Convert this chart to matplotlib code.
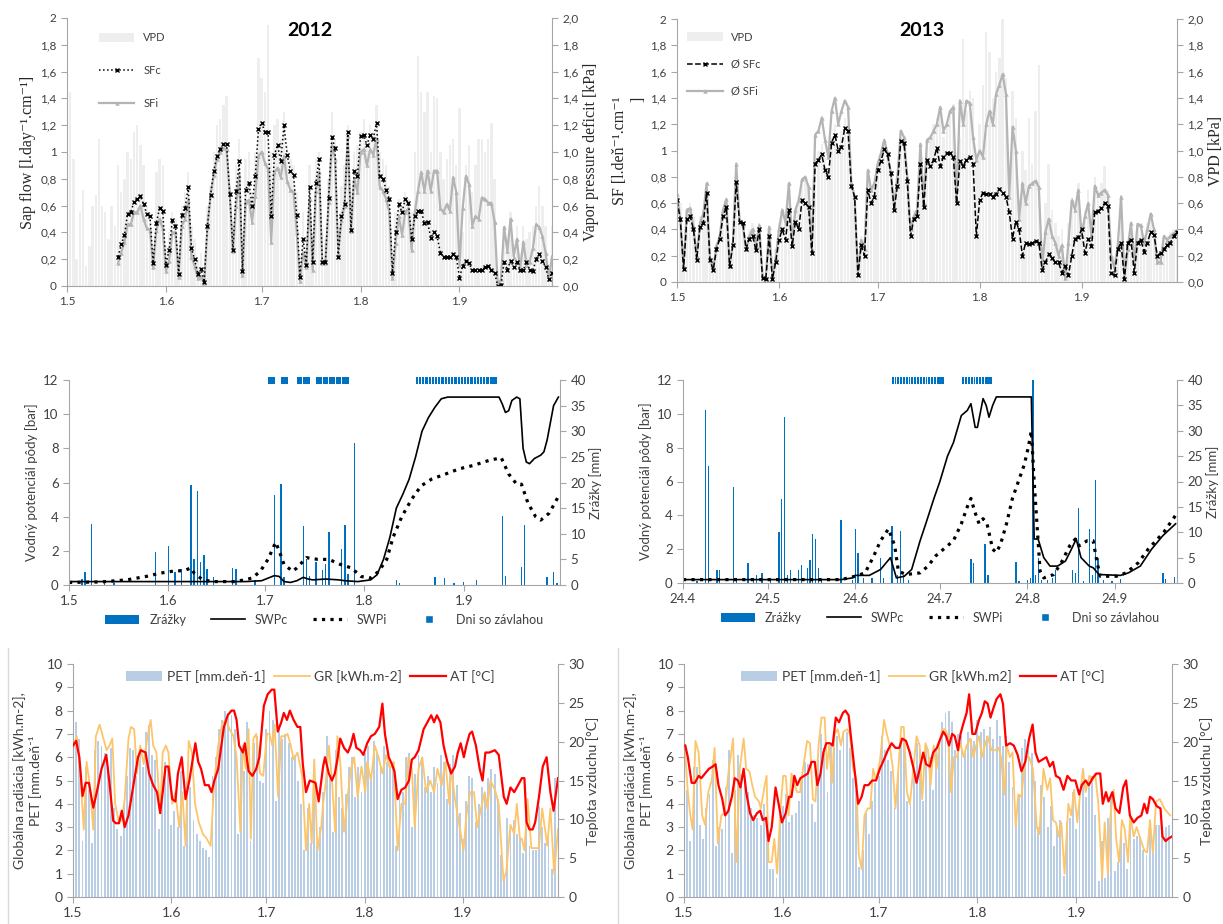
import numpy as np
import matplotlib.pyplot as plt
from matplotlib.lines import Line2D
from matplotlib.patches import Patch

plt.rcParams['font.family'] = ['Lato', 'DejaVu Sans']
SERIF = ['Liberation Serif', 'DejaVu Serif']

# ---------------- data ----------------
# x axis = day of season (0 = 1 May; mid-right panel: 0 = 24 April)
month_ticks = [0, 31, 61, 92, 123]
month_labels = ['1.5', '1.6', '1.7', '1.8', '1.9']
month_ticks_b = [0, 30, 61, 91, 122, 153]
month_labels_b = ['24.4', '24.5', '24.6', '24.7', '24.8', '24.9']

sf_left_labels = ['0', '0,2', '0,4', '0,6', '0,8', '1', '1,2', '1,4', '1,6', '1,8', '2']
sf_right_labels = ['0,0', '0,2', '0,4', '0,6', '0,8', '1,0', '1,2', '1,4', '1,6', '1,8', '2,0']

# 2012 vapour pressure deficit [kPa], days 0..152
vpd12 = [1.37, 1.45, 0.95, 0.20, 0.55, 0.72, 0.15, 0.30, 0.60, 0.68,
         1.10, 0.60, 0.55, 0.35, 0.60, 0.45, 0.90, 0.70, 0.80, 1.00,
         0.95, 1.15, 1.20, 1.05, 0.90, 0.60, 0.55, 0.25, 0.85, 0.95,
         0.90, 0.30, 0.40, 0.55, 0.50, 0.15, 0.60, 0.70, 0.85, 0.45,
         0.35, 0.20, 0.25, 0.10, 0.60, 0.75, 1.00, 1.20, 1.25, 1.35,
         1.42, 0.75, 0.40, 0.90, 1.10, 0.20, 0.95, 1.00, 0.70, 1.00,
         1.70, 1.55, 1.45, 1.95, 1.00, 1.20, 1.25, 1.10, 1.30, 1.05,
         0.95, 0.90, 0.70, 0.15, 0.55, 0.30, 0.90, 0.35, 0.95, 1.00,
         0.40, 0.35, 0.80, 1.30, 1.10, 0.40, 0.75, 0.90, 1.20, 0.70,
         1.00, 1.05, 1.15, 1.25, 1.10, 1.20, 1.15, 1.35, 1.00, 0.95,
         0.90, 0.75, 0.20, 0.55, 0.65, 0.60, 0.70, 0.65, 0.55, 1.00,
         1.72, 1.45, 1.30, 1.45, 1.00, 1.42, 1.40, 1.00, 0.80, 0.95,
         1.05, 1.10, 0.90, 1.33, 0.40, 0.90, 1.05, 0.70, 0.90, 1.10,
         1.10, 1.00, 1.10, 1.22, 0.80, 0.05, 0.15, 0.40, 0.35, 0.55,
         0.30, 0.45, 0.25, 0.45, 0.35, 0.40, 0.45, 0.60, 0.75, 0.60,
         0.45, 0.15, 0.45]

# 2012 sap flow, days 16..152
sf12_start = 16
sfc12 = [0.22, 0.31, 0.38, 0.54, 0.55, 0.63, 0.65, 0.67, 0.61, 0.54,
         0.52, 0.17, 0.47, 0.58, 0.56, 0.16, 0.27, 0.49, 0.45, 0.09,
         0.53, 0.58, 0.74, 0.28, 0.20, 0.09, 0.13, 0.03, 0.45, 0.68,
         0.86, 0.97, 1.02, 1.06, 1.06, 0.69, 0.27, 0.71, 0.93, 0.11,
         0.72, 0.77, 0.60, 0.82, 1.17, 1.22, 1.15, 1.15, 0.52, 0.98,
         1.05, 0.93, 1.20, 0.98, 0.86, 0.83, 0.53, 0.07, 0.35, 0.16,
         0.74, 0.18, 0.77, 0.95, 0.18, 0.18, 0.66, 1.11, 1.03, 0.22,
         0.52, 0.61, 1.15, 0.42, 0.86, 0.82, 1.12, 1.13, 1.05, 1.13,
         1.10, 1.22, 0.82, 0.80, 0.72, 0.65, 0.10, 0.40, 0.61, 0.55,
         0.65, 0.62, 0.35, 0.52, 0.56, 0.56, 0.47, 0.48, 0.36, 0.40,
         0.37, 0.25, 0.22, 0.22, 0.22, 0.24, 0.22, 0.06, 0.15, 0.19,
         0.17, 0.12, 0.12, 0.12, 0.12, 0.14, 0.15, 0.12, 0.10, 0.00,
         0.01, 0.18, 0.12, 0.19, 0.14, 0.18, 0.12, 0.12, 0.18, 0.12,
         0.11, 0.20, 0.24, 0.19, 0.14, 0.05, 0.10]
sfi12 = [0.17, 0.25, 0.33, 0.46, 0.46, 0.55, 0.55, 0.60, 0.50, 0.43,
         0.42, 0.14, 0.42, 0.50, 0.43, 0.11, 0.19, 0.40, 0.40, 0.07,
         0.45, 0.50, 0.64, 0.22, 0.15, 0.06, 0.07, 0.02, 0.44, 0.68,
         0.83, 0.95, 1.00, 1.03, 1.02, 0.69, 0.26, 0.60, 0.83, 0.08,
         0.63, 0.64, 0.48, 0.67, 0.97, 1.00, 0.92, 0.87, 0.33, 0.85,
         0.88, 0.81, 0.97, 0.78, 0.72, 0.70, 0.40, 0.04, 0.25, 0.14,
         0.65, 0.12, 0.71, 0.85, 0.17, 0.17, 0.63, 1.05, 0.95, 0.25,
         0.49, 0.60, 1.12, 0.41, 0.80, 0.70, 1.00, 1.02, 0.90, 1.02,
         0.98, 1.10, 0.74, 0.71, 0.65, 0.55, 0.06, 0.32, 0.52, 0.38,
         0.55, 0.58, 0.27, 0.55, 0.71, 0.85, 0.71, 0.86, 0.71, 0.86,
         0.86, 0.58, 0.55, 0.61, 0.56, 0.81, 0.70, 0.16, 0.58, 0.82,
         0.76, 0.45, 0.52, 0.50, 0.66, 0.65, 0.62, 0.62, 0.48, 0.01,
         0.05, 0.44, 0.26, 0.50, 0.22, 0.35, 0.12, 0.33, 0.16, 0.18,
         0.28, 0.46, 0.44, 0.37, 0.25, 0.05, 0.22]

# 2013 VPD and sap flow, days 0..152
vpd13 = [1.08, 0.60, 0.20, 0.55, 0.60, 0.50, 0.25, 0.50, 0.55, 0.70,
         0.25, 0.15, 0.30, 0.40, 0.55, 0.60, 0.20, 0.35, 0.80, 0.50,
         0.45, 0.30, 0.40, 0.45, 0.35, 0.45, 0.10, 0.08, 0.40, 0.10,
         0.25, 0.45, 0.55, 0.50, 0.70, 0.40, 0.55, 0.65, 0.75, 0.80,
         0.75, 0.35, 0.95, 1.00, 1.05, 0.95, 0.85, 1.10, 1.20, 1.00,
         1.15, 1.25, 1.20, 0.70, 0.60, 0.10, 0.35, 0.30, 0.80, 0.70,
         0.75, 0.85, 0.95, 1.05, 0.95, 0.85, 0.60, 0.80, 1.10, 1.05,
         0.80, 0.40, 0.55, 0.60, 1.00, 0.65, 1.05, 1.10, 1.20, 1.25,
         1.30, 1.10, 1.20, 1.30, 1.35, 0.70, 1.10, 1.85, 1.30, 1.45,
         1.40, 0.95, 1.20, 1.50, 1.90, 1.75, 1.40, 1.60, 1.70, 2.00,
         1.55, 0.80, 1.45, 1.25, 0.60, 1.00, 0.85, 1.25, 0.90, 1.30,
         1.65, 0.25, 0.60, 0.90, 0.55, 0.45, 0.35, 0.40, 0.10, 0.45,
         0.65, 0.60, 0.75, 0.45, 0.55, 0.70, 0.45, 0.80, 0.70, 0.75,
         0.88, 0.70, 0.30, 0.20, 0.35, 0.60, 0.10, 0.30, 0.45, 0.20,
         0.45, 0.45, 0.35, 0.45, 0.50, 0.40, 0.20, 0.20, 0.35, 0.35,
         0.38, 0.40, 0.40]
sfc13 = [0.62, 0.48, 0.10, 0.48, 0.50, 0.40, 0.17, 0.42, 0.45, 0.68,
         0.17, 0.09, 0.25, 0.33, 0.50, 0.57, 0.12, 0.28, 0.76, 0.46,
         0.45, 0.25, 0.33, 0.35, 0.24, 0.40, 0.03, 0.02, 0.35, 0.02,
         0.15, 0.32, 0.40, 0.32, 0.55, 0.27, 0.46, 0.40, 0.62, 0.60,
         0.57, 0.22, 0.90, 0.93, 0.97, 0.85, 0.80, 1.06, 1.12, 1.00,
         1.03, 1.17, 1.15, 0.73, 0.65, 0.05, 0.28, 0.20, 0.70, 0.60,
         0.65, 0.85, 0.92, 1.01, 0.97, 0.83, 0.55, 0.73, 1.07, 1.06,
         0.77, 0.35, 0.48, 0.50, 0.90, 0.57, 0.93, 0.88, 0.93, 1.02,
         0.88, 0.95, 0.98, 0.98, 0.95, 0.60, 0.92, 0.88, 0.93, 0.95,
         0.90, 0.35, 0.62, 0.68, 0.67, 0.67, 0.65, 0.67, 0.71, 0.68,
         0.65, 0.53, 0.33, 0.46, 0.40, 0.20, 0.30, 0.29, 0.30, 0.31,
         0.30, 0.09, 0.15, 0.21, 0.18, 0.15, 0.15, 0.07, 0.12, 0.05,
         0.20, 0.33, 0.34, 0.40, 0.22, 0.33, 0.27, 0.53, 0.54, 0.56,
         0.60, 0.58, 0.07, 0.05, 0.25, 0.30, 0.02, 0.30, 0.32, 0.07,
         0.30, 0.32, 0.23, 0.30, 0.38, 0.36, 0.20, 0.22, 0.25, 0.28,
         0.30, 0.35, 0.38]
sfi13 = [0.67, 0.48, 0.12, 0.55, 0.56, 0.42, 0.20, 0.45, 0.52, 0.75,
         0.18, 0.10, 0.27, 0.35, 0.55, 0.63, 0.12, 0.30, 0.90, 0.47,
         0.43, 0.25, 0.35, 0.40, 0.28, 0.43, 0.04, 0.03, 0.42, 0.05,
         0.18, 0.40, 0.55, 0.45, 0.75, 0.30, 0.55, 0.62, 0.78, 0.80,
         0.72, 0.25, 1.12, 1.15, 1.25, 1.08, 0.95, 1.30, 1.40, 1.20,
         1.30, 1.38, 1.33, 0.75, 0.65, 0.06, 0.32, 0.25, 0.85, 0.70,
         0.75, 0.90, 0.98, 1.08, 0.98, 0.83, 0.58, 0.80, 1.15, 1.10,
         0.80, 0.40, 0.50, 0.55, 1.05, 0.60, 1.08, 1.10, 1.15, 1.20,
         1.33, 1.15, 1.20, 1.30, 1.33, 0.62, 1.38, 1.20, 1.38, 1.36,
         1.10, 0.93, 1.00, 0.95, 1.20, 1.30, 1.20, 1.43, 1.50, 1.58,
         1.43, 0.65, 1.18, 1.00, 0.48, 0.75, 0.60, 0.73, 0.75, 0.77,
         0.72, 0.12, 0.38, 0.48, 0.35, 0.30, 0.20, 0.28, 0.03, 0.30,
         0.62, 0.55, 0.70, 0.35, 0.50, 0.60, 0.35, 0.73, 0.66, 0.68,
         0.70, 0.66, 0.20, 0.10, 0.28, 0.65, 0.03, 0.25, 0.45, 0.15,
         0.44, 0.43, 0.30, 0.40, 0.52, 0.40, 0.15, 0.15, 0.35, 0.32,
         0.35, 0.37, 0.39]

# 2012 soil water potential [bar] (day, value) and rain [mm]
swpc12 = [(0, 0.2), (40, 0.2), (55, 0.2), (60, 0.25), (62, 0.4), (64, 0.55), (65.5, 0.5),
          (67, 0.2), (69, 0.15), (71, 0.25), (73, 0.45), (74.5, 0.35), (76, 0.3), (80, 0.35),
          (84, 0.3), (86, 0.25), (90, 0.2), (94, 0.3), (96, 0.6), (98, 1.5), (100, 2.8),
          (102, 4.5), (104, 5.3), (106, 6.2), (108, 7.5), (110, 9.0), (112, 9.8), (114, 10.4),
          (116, 10.9), (118, 11.0), (134, 11.0), (135, 10.6), (136, 10.1), (137, 10.2),
          (138, 10.8), (139.5, 11.0), (140.5, 10.9), (141.5, 8.0), (142.5, 7.2), (143.5, 7.1),
          (145, 7.4), (147, 7.6), (148, 7.8), (149, 8.5), (150, 9.5), (151, 10.5), (152.5, 11.0)]
swpi12 = [(0, 0.15), (10, 0.18), (18, 0.3), (24, 0.5), (28.6, 0.7), (32, 0.8), (36, 0.85),
          (38, 1.0), (39, 0.7), (41.7, 0.3), (45, 0.2), (52, 0.2), (57, 0.4), (59.6, 0.8),
          (62, 1.5), (64.4, 2.5), (65.5, 2.0), (67, 1.2), (69.7, 0.8), (71, 1.0), (74, 1.6),
          (77.5, 1.5), (81, 1.5), (84.6, 1.2), (88, 1.0), (91, 0.5), (94, 0.4), (96.5, 0.8),
          (99, 1.5), (101, 2.8), (103.7, 4.0), (106.7, 5.0), (109.7, 5.8), (113, 6.2),
          (117.4, 6.5), (121.6, 6.8), (126, 7.0), (131, 7.3), (134.7, 7.45), (137, 6.5),
          (139.5, 5.9), (141, 5.9), (143, 4.8), (145.4, 4.0), (147, 3.8), (149.6, 4.2),
          (151.4, 4.8), (152.8, 5.3)]
rain12_day = [4, 5, 7, 11, 14, 27, 31, 33, 35, 38, 39, 40, 41, 42, 43, 45, 51, 52, 58, 64,
              66, 67, 73, 74, 75, 77, 79, 80, 81, 85, 86, 87, 89, 102, 103, 114, 117, 120,
              123, 127, 135, 136, 141, 142, 149, 151, 152]
rain12_mm = [1.2, 2.6, 12.0, 0.3, 0.3, 6.4, 7.6, 2.5, 3.2, 19.6, 5.0, 18.3, 4.4, 5.8, 3.2,
             1.5, 3.4, 3.2, 1.0, 17.5, 19.7, 1.5, 11.6, 5.0, 1.8, 4.4, 3.0, 4.1, 10.4, 7.1,
             11.7, 2.2, 27.8, 1.0, 0.3, 1.5, 1.3, 0.3, 0.5, 1.0, 13.5, 1.8, 3.6, 11.7, 1.6,
             2.6, 0.3]
irr12 = [63, 67, 72, 74, 78, 80, 82, 84, 86,
         109, 110, 111, 112, 113, 114, 115, 116, 117, 118, 119, 120, 121, 122, 123, 124,
         125, 126, 127, 128, 129, 130, 131, 132]

# 2013 soil water potential (day from 24 April) and rain
swpc13 = [(0, 0.2), (56, 0.2), (60, 0.3), (61, 0.45), (66, 0.45), (70, 0.8), (73.5, 1.5),
          (75.6, 0.3), (78.4, 0.4), (81, 0.8), (84, 2.5), (86, 3.5), (88.9, 5.0), (91, 6.0),
          (93.7, 7.5), (95.8, 8.3), (98.6, 9.9), (100.7, 10.2), (102, 10.6), (103.5, 9.2),
          (104.3, 9.2), (106.3, 10.9), (107.4, 10.5), (108.4, 9.8), (109.7, 10.5), (111, 11.0),
          (123.4, 11.0), (124.4, 2.6), (125.8, 2.6), (127.8, 1.5), (130, 1.0), (132.7, 1.0),
          (135.5, 1.3), (137.6, 2.0), (139.3, 2.6), (141, 1.5), (143.9, 1.0), (145.3, 0.9),
          (147.4, 0.5), (155, 0.45), (157.8, 0.6), (162, 1.0), (166, 2.0), (170, 2.8),
          (174.5, 3.5)]
swpi13 = [(0, 0.2), (56, 0.2), (61, 0.4), (64.5, 0.6), (67.3, 1.5), (70, 2.5), (72.8, 3.2),
          (75, 2.2), (76.3, 0.7), (79, 0.5), (84, 0.6), (86.8, 1.0), (89.5, 1.6), (92.3, 2.0),
          (95.8, 2.5), (98.6, 3.5), (100.7, 4.5), (102, 5.0), (103.4, 4.2), (104.9, 3.5),
          (106.3, 3.8), (107.7, 3.5), (109.7, 2.0), (111, 1.8), (112.5, 2.3), (114.6, 3.5),
          (116.7, 5.0), (118.8, 6.0), (120.9, 7.0), (122.3, 8.0), (123.4, 9.0), (124.4, 6.0),
          (126.5, 0.7), (127.8, 0.3), (131.3, 0.5), (134, 1.2), (137, 2.2), (139, 2.6),
          (140.4, 2.2), (143.2, 2.5), (145.3, 2.5), (146.7, 1.2), (147.8, 0.4), (153.6, 0.4),
          (157, 0.6), (161.3, 1.2), (164.8, 2.0), (170.3, 3.0), (174.5, 4.0)]
rain13_day = [5, 8, 9, 12, 13, 18, 19, 23, 25, 26, 28, 31, 34, 35, 36, 37, 38, 41, 42, 44,
              45, 46, 47, 48, 49, 56, 60, 61, 62, 64, 67, 70, 71, 74, 76, 77, 78, 80, 102,
              103, 107, 108, 118, 119, 122, 123, 124, 125, 126, 127, 129, 131, 132, 138, 139,
              140, 142, 144, 145, 146, 147, 149, 152, 155, 170, 171, 174]
rain13_mm = [0.3, 34.0, 23.0, 2.5, 2.5, 19.0, 0.8, 4.0, 1.0, 1.5, 2.0, 0.5, 10.0, 16.5, 32.7,
             1.5, 2.5, 2.5, 3.5, 3.0, 4.5, 9.7, 8.7, 3.0, 0.5, 12.4, 0.5, 10.7, 6.0, 1.0, 1.0,
             5.0, 1.0, 11.2, 1.5, 10.2, 1.5, 0.5, 4.7, 4.0, 7.7, 1.5, 4.2, 0.3, 0.5, 1.0, 40.0,
             1.5, 5.0, 0.5, 0.5, 1.0, 2.5, 2.5, 2.0, 14.8, 0.3, 10.7, 1.5, 20.3, 5.0, 0.5, 0.3,
             0.8, 2.0, 0.8, 1.2]
irr13 = [75, 76, 77, 78, 79, 80, 81, 82, 83, 84, 85, 86, 87, 88, 89, 90, 91,
         100, 101, 102, 103, 104, 105, 106, 107, 108]

# potential evapotranspiration [mm/day], days 0..152
pet12 = [7.2, 7.5, 6.8, 2.4, 5.6, 4.6, 2.3, 6.3, 6.7, 6.5,
         6.2, 5.6, 6.4, 3.8, 2.9, 2.6, 4.0, 5.2, 6.4, 6.3,
         5.2, 6.2, 5.6, 7.1, 7.4, 6.1, 5.9, 2.9, 5.4, 5.8,
         5.6, 3.1, 3.7, 3.0, 5.4, 2.2, 5.0, 4.7, 3.3, 2.7,
         2.4, 2.1, 2.0, 1.7, 5.2, 6.0, 7.2, 7.6, 8.0, 7.9,
         7.8, 7.2, 2.7, 6.3, 5.4, 7.5, 2.4, 6.6, 6.9, 5.0,
         4.9, 7.2, 8.0, 7.6, 4.1, 7.2, 6.8, 7.0, 6.6, 6.0,
         6.1, 5.0, 4.0, 2.0, 3.8, 2.3, 5.6, 2.2, 3.0, 4.5,
         6.9, 5.1, 2.8, 6.3, 4.3, 3.8, 4.4, 5.6, 6.0, 4.3,
         5.6, 4.5, 6.2, 6.5, 5.0, 6.7, 6.2, 5.6, 6.5, 5.8,
         5.5, 5.8, 2.2, 4.3, 4.5, 6.0, 6.2, 3.0, 5.3, 6.1,
         5.9, 4.7, 5.2, 4.5, 5.6, 4.9, 6.1, 5.8, 4.2, 5.7,
         6.1, 4.8, 3.6, 2.5, 4.1, 5.2, 5.1, 3.2, 4.0, 4.7,
         4.3, 5.1, 5.5, 5.3, 4.2, 1.8, 0.9, 3.4, 2.9, 3.3,
         2.7, 2.5, 1.9, 3.7, 2.2, 2.0, 2.0, 3.9, 3.0, 2.3,
         3.0, 1.2, 5.1]
pet13 = [6.4, 4.6, 2.4, 5.6, 5.6, 3.1, 2.5, 3.8, 4.4, 5.9,
         2.2, 3.0, 2.9, 4.7, 6.3, 1.9, 4.6, 6.1, 5.3, 5.0,
         4.5, 3.8, 3.5, 3.4, 3.1, 4.0, 3.2, 1.2, 1.2, 0.8,
         3.3, 3.9, 4.4, 3.2, 3.5, 3.6, 4.1, 5.2, 5.8, 5.7,
         4.0, 3.2, 5.9, 7.0, 6.4, 4.5, 6.6, 6.4, 6.9, 6.3,
         7.0, 7.1, 6.4, 5.1, 4.6, 1.3, 2.0, 3.6, 2.7, 4.1,
         4.9, 5.2, 6.9, 6.3, 5.9, 5.4, 3.8, 5.3, 6.7, 6.8,
         4.1, 4.0, 5.2, 6.6, 6.3, 4.1, 6.4, 6.0, 4.6, 6.4,
         6.6, 7.5, 7.9, 8.0, 7.5, 6.3, 7.0, 6.9, 6.2, 7.1,
         6.8, 6.7, 7.6, 7.1, 7.2, 6.9, 7.3, 6.8, 7.6, 6.9,
         6.5, 6.9, 5.8, 4.7, 3.5, 4.4, 6.4, 6.8, 6.3, 6.2,
         5.0, 3.0, 4.8, 4.3, 3.0, 3.9, 2.2, 3.0, 3.3, 0.9,
         3.2, 3.4, 4.5, 2.9, 4.1, 5.0, 4.3, 5.0, 5.2, 3.5,
         0.7, 2.4, 0.8, 3.4, 4.4, 1.1, 1.5, 2.6, 2.3, 1.2,
         3.2, 2.5, 2.6, 2.6, 2.0, 1.8, 2.9, 1.9, 3.1, 3.1,
         3.0, 3.0, 3.1]

# global radiation [kWh/m2] (day, value)
gr12 = [(0, 6.3), (1.2, 6.9), (2.2, 5.5), (3.4, 2.9), (4.3, 5.8), (5.3, 4.8), (6.4, 2.9),
        (7.2, 6.9), (8.4, 7.4), (9.4, 6.9), (10.6, 6.3), (11.5, 6.5), (12.4, 6.8), (13.3, 4.0),
        (14.5, 3.2), (15.4, 3.3), (16.3, 4.2), (17.5, 6.8), (18.3, 7.3), (19.3, 7.2),
        (20.2, 5.3), (21.2, 6.5), (22.3, 5.7), (23.4, 6.8), (24.5, 7.6), (25.3, 6.5),
        (26.3, 6.2), (27.5, 3.6), (28.3, 6.2), (29.3, 6.5), (30.1, 6.2), (31.3, 4.0),
        (32.3, 4.5), (33.5, 3.0), (34.5, 4.5), (35.5, 2.2), (36.5, 6.7), (37.5, 6.2),
        (38.5, 4.0), (39.7, 3.2), (41, 2.7), (42.2, 2.5), (43.4, 2.2), (44.6, 5.0),
        (45.8, 6.5), (47, 7.4), (48.2, 7.6), (49.4, 7.2), (50.6, 6.9), (51.6, 6.0),
        (52.8, 2.8), (53.6, 6.5), (54.5, 5.5), (55.4, 7.2), (56.1, 2.5), (56.9, 6.8),
        (57.8, 7.0), (59, 5.3), (60, 5.2), (61.2, 7.0), (62, 7.0), (62.9, 6.5), (63.6, 7.4),
        (64.7, 4.3), (65.7, 6.9), (66.9, 6.9), (67.7, 7.0), (68.7, 6.5), (69.6, 5.9),
        (70.8, 6.2), (72.3, 5.2), (73.5, 2.0), (74.5, 4.0), (75.3, 2.3), (76.1, 5.9),
        (77.1, 2.0), (78.3, 3.0), (78.9, 4.0), (79.8, 5.0), (80.7, 6.5), (81.7, 5.0),
        (82.7, 2.8), (83.4, 6.9), (84.3, 5.8), (85.5, 2.8), (86.8, 4.5), (87.7, 5.5),
        (88.7, 6.0), (89.8, 4.3), (91, 5.6), (92.2, 4.5), (92.8, 5.8), (94, 5.0), (95.2, 6.5),
        (96.4, 6.0), (97.6, 5.3), (98.8, 6.1), (100, 5.5), (101.2, 5.8), (102.4, 2.0),
        (103.6, 4.0), (104.8, 4.0), (105.8, 6.0), (106.9, 5.5), (107.8, 3.0), (109, 5.5),
        (110.2, 6.0), (111.4, 4.5), (112.7, 5.0), (113.9, 4.5), (115, 5.5), (116.3, 4.8),
        (117.5, 5.8), (118.7, 4.0), (119.3, 5.5), (120.5, 4.2), (123.2, 2.0), (124.1, 3.5),
        (125.3, 4.5), (126.5, 4.5), (127.5, 3.0), (128.7, 3.8), (129.9, 4.5), (130.7, 3.8),
        (131.7, 5.0), (133.1, 4.6), (134.3, 4.0), (135.8, 0.7), (136.7, 1.1), (138, 3.1),
        (139.2, 2.7), (140, 4.0), (141, 2.5), (141.6, 2.5), (142.4, 2.0), (143.4, 4.2),
        (144.6, 2.1), (146.4, 2.1), (147, 2.1), (148, 3.8), (148.8, 3.0), (149.6, 2.2),
        (150.6, 3.8), (151.8, 1.0), (153, 2.9)]
gr13 = [(0.2, 6.5), (1.2, 4.5), (2, 3.5), (2.7, 2.9), (3.6, 6.7), (4.6, 6.2), (5.7, 3.5),
        (6.6, 3.1), (7.6, 4.5), (8.7, 5.0), (9.6, 6.4), (10.6, 2.3), (11.7, 3.5), (12.7, 3.6),
        (13.9, 5.3), (15.4, 6.8), (16.4, 1.5), (17.5, 5.5), (18.7, 6.8), (19.5, 5.5),
        (20.5, 5.4), (21.4, 4.8), (22.3, 4.3), (23.5, 4.1), (24.1, 3.8), (25.3, 4.8),
        (25.9, 5.2), (26.5, 1.5), (27.5, 1.5), (28.3, 2.5), (29.2, 1.0), (30.1, 3.5),
        (31.1, 5.2), (31.9, 5.2), (32.8, 3.5), (33.7, 5.3), (34.7, 4.8), (35.5, 4.5),
        (36.4, 4.5), (37.3, 5.5), (38.6, 6.7), (39.5, 6.6), (40.4, 4.2), (41.2, 4.1),
        (42.2, 6.5), (43.1, 7.7), (44.1, 7.7), (44.8, 5.5), (45.5, 6.5), (46.4, 4.9),
        (47.2, 7.0), (48.2, 7.2), (49.2, 6.5), (50, 7.1), (51.2, 7.2), (52, 7.0), (53, 5.5),
        (54, 5.1), (54.8, 1.8), (55.7, 1.2), (56.6, 3.5), (57.6, 3.8), (58.4, 3.8),
        (59.3, 5.5), (60.2, 5.0), (61.4, 5.8), (62.7, 7.6), (63.6, 7.0), (64.5, 6.5),
        (65.4, 5.6), (66.3, 3.8), (67.2, 5.5), (68.1, 7.3), (68.9, 7.3), (69.9, 4.5),
        (70.8, 4.0), (71.7, 5.2), (72.9, 6.9), (73.9, 6.5), (74.7, 4.2), (75.7, 6.6),
        (76.5, 6.3), (77.3, 4.8), (78.3, 6.5), (79.2, 5.5), (80.1, 6.6), (81, 7.2),
        (81.9, 7.2), (82.8, 6.9), (83.7, 4.5), (84.6, 6.0), (85.5, 6.0), (86.7, 6.6),
        (87.7, 6.0), (88.6, 6.5), (89.8, 6.8), (90.7, 6.0), (91.6, 6.5), (92.5, 6.9),
        (93.4, 6.0), (94.3, 6.5), (95.2, 6.9), (96.4, 6.3), (97.6, 6.3), (98.6, 6.4),
        (99.4, 6.0), (100.4, 4.4), (101.2, 6.5), (102.2, 6.0), (103, 6.2), (104, 3.0),
        (104.8, 4.4), (105.8, 4.3), (107, 6.0), (108.2, 6.0), (109.4, 5.5), (110.6, 3.0),
        (111.4, 2.7), (112.7, 5.5), (113.9, 4.6), (114.8, 5.1), (115.7, 3.3), (116.6, 3.2),
        (117.5, 2.6), (118.3, 3.2), (119.3, 1.0), (120.5, 4.0), (121.4, 3.5), (122.3, 4.6),
        (123.3, 3.2), (124.1, 4.3), (125.1, 5.5), (125.9, 4.5), (127.1, 5.2), (128.1, 5.0),
        (128.9, 5.3), (129.9, 4.0), (131.1, 0.8), (131.9, 3.2), (132.9, 1.0), (133.7, 3.5),
        (134.7, 4.6), (135.5, 2.5), (136.4, 1.5), (137.3, 3.3), (138.2, 2.9), (139.2, 1.5),
        (139.9, 3.5), (141, 2.6), (141.9, 3.0), (143.1, 2.5), (144.3, 2.0), (145.2, 1.9),
        (146.1, 3.3), (147, 1.9), (148, 4.1), (149.2, 4.2), (150.6, 3.8), (152.4, 3.5)]

# air temperature [deg C] (day, value)
at12 = [(0, 19.5), (1, 20.1), (2, 18.0), (3, 13.0), (4, 14.7), (5, 14.7), (6.4, 11.5),
        (7.5, 13.5), (9, 16.5), (10.5, 18.3), (11.5, 14.7), (12.7, 9.8), (13.5, 9.5),
        (14.5, 9.5), (15.4, 11.1), (16.3, 9.0), (17.5, 10.5), (19.3, 15.0), (20.5, 18.0),
        (21.4, 18.9), (22.9, 18.6), (24, 15.9), (25.3, 14.4), (26.5, 13.5), (27.5, 10.8),
        (28.3, 13.5), (29.2, 16.8), (30.1, 16.8), (31.3, 12.6), (32.3, 12.3), (33.1, 15.9),
        (34.3, 18.0), (35.5, 12.6), (36.7, 15.0), (38.6, 19.8), (39.5, 17.4), (40.4, 16.5),
        (41.6, 14.4), (42.8, 14.4), (43.7, 13.5), (44.6, 15.0), (45.8, 16.5), (46.8, 19.5),
        (47.6, 21.9), (48.8, 23.4), (50, 24.0), (50.8, 24.0), (51.6, 22.8), (52.4, 19.5),
        (53.6, 18.6), (54.2, 19.8), (55.4, 16.2), (56.6, 15.6), (57.8, 16.5), (58.8, 18.0),
        (60.2, 24.6), (61.4, 26.1), (62.7, 26.7), (63.5, 26.7), (64.6, 21.3), (65.7, 22.5),
        (66.5, 23.7), (67.5, 22.8), (68.4, 24.0), (69.6, 22.8), (70.8, 21.9), (71.7, 21.9),
        (72.5, 17.1), (73.5, 13.5), (74.7, 15.0), (76.5, 14.7), (77.5, 12.3), (78.9, 16.8),
        (79.5, 18.0), (80.7, 15.9), (81.7, 15.0), (82.6, 15.9), (83.4, 17.7), (84.3, 20.4),
        (85.5, 19.2), (86.7, 18.6), (87.6, 19.5), (88.5, 21.0), (89.4, 19.2), (90.6, 18.9),
        (91.6, 18.3), (92.8, 19.8), (94, 20.7), (95.2, 21.0), (96.6, 21.9), (97.6, 24.9),
        (98.4, 21.0), (99.6, 18.0), (100.6, 17.1), (101.4, 16.2), (102.4, 12.6), (103.6, 13.8),
        (104.8, 14.1), (106, 15.0), (106.9, 17.7), (107.8, 18.0), (109, 18.9), (110.6, 21.6),
        (111.8, 22.5), (113, 23.4), (113.9, 22.5), (114.8, 23.4), (115.9, 22.5), (116.9, 19.5),
        (118.1, 17.4), (119.3, 15.9), (120.5, 16.8), (121.4, 18.6), (122.3, 19.8), (123.3, 18.0),
        (124.1, 19.5), (125.1, 21.0), (125.9, 21.3), (127.1, 19.5), (128.3, 16.5), (129.2, 15.0),
        (130.1, 18.6), (131.3, 18.6), (133.1, 18.9), (134.3, 18.3), (135.9, 12.9), (136.8, 12.0),
        (138, 14.1), (139.2, 13.5), (140.4, 14.4), (141.6, 15.3), (142.4, 15.3), (143.1, 9.6),
        (144, 8.7), (145, 8.7), (145.8, 9.6), (147, 12.9), (148.2, 16.8), (149.4, 18.0),
        (150.6, 13.5), (151.6, 11.1), (153, 15.3)]
at13 = [(0.4, 19.5), (1.2, 18.0), (2.4, 14.7), (3.4, 14.7), (4.6, 15.6), (5.4, 15.3),
        (6.6, 15.9), (7.8, 16.5), (9, 16.8), (9.9, 17.1), (10.8, 14.4), (12, 12.6), (12.9, 10.5),
        (13.9, 11.1), (15, 12.9), (15.9, 15.3), (16.9, 15.0), (17.7, 14.1), (18.7, 16.5),
        (19.5, 13.5), (20.7, 10.8), (21.7, 9.9), (22.9, 10.8), (23.9, 11.1), (24.7, 9.9),
        (25.7, 10.2), (26.5, 7.2), (27.5, 9.0), (28.7, 14.1), (29.8, 11.7), (30.7, 9.6),
        (31.9, 10.8), (32.9, 12.9), (33.7, 12.9), (34.6, 15.6), (35.5, 14.4), (36.5, 15.3),
        (37.7, 15.6), (38.8, 15.9), (40, 17.4), (41, 17.4), (41.8, 14.4), (42.8, 15.9),
        (43.7, 18.6), (44.6, 19.8), (45.8, 19.8), (46.6, 19.5), (47.6, 23.1), (48.6, 22.5),
        (49.8, 23.7), (50.6, 24.0), (51.6, 23.4), (52.4, 20.4), (53.6, 15.9), (54.6, 12.0),
        (55.7, 12.9), (56.6, 14.4), (57.8, 14.4), (59, 15.0), (60.2, 15.0), (61.4, 16.5),
        (62.7, 17.7), (63.9, 18.9), (65.1, 19.8), (66.3, 19.2), (67.5, 19.2), (68.4, 20.4),
        (69.6, 20.1), (70.8, 18.6), (72, 16.5), (72.9, 14.7), (73.9, 16.5), (75, 18.6),
        (75.9, 17.1), (77.1, 16.8), (78.1, 18.6), (79.3, 19.2), (80.1, 20.1), (81.3, 21.3),
        (82.2, 20.7), (83.1, 19.5), (84.1, 21.0), (84.9, 20.7), (85.9, 18.9), (86.7, 21.0),
        (87.7, 22.5), (88.6, 23.7), (89.4, 26.1), (90.4, 21.0), (91.3, 21.0), (92.5, 22.8),
        (93.4, 23.7), (94.3, 25.2), (95.2, 24.9), (96.1, 23.1), (97, 24.3), (98, 25.5),
        (99.2, 26.1), (100, 24.9), (101, 19.5), (102.2, 19.8), (103.4, 19.5), (104.6, 18.3),
        (105.8, 16.2), (107, 17.4), (108.2, 20.4), (109.3, 22.2), (110.2, 18.6), (111.2, 17.4),
        (112.4, 17.7), (113.6, 18.0), (114.7, 16.8), (115.7, 17.4), (116.6, 15.6), (117.8, 15.3),
        (119, 13.8), (120.2, 15.6), (121.4, 15.0), (122.7, 15.0), (123.9, 13.2), (124.7, 14.4),
        (125.9, 15.0), (126.9, 14.4), (128.1, 15.3), (129.3, 15.9), (130.5, 15.9), (131.3, 12.0),
        (132.3, 13.5), (133.1, 12.3), (134.3, 13.5), (135.3, 11.4), (136.5, 10.8), (137.7, 14.1),
        (138.6, 15.0), (139.8, 10.5), (141, 9.6), (142.2, 10.2), (143.4, 10.5), (144.3, 12.0),
        (145.2, 10.8), (146.1, 12.9), (147, 12.6), (148.2, 11.7), (149.4, 11.4), (150, 7.8),
        (151, 7.2), (151.8, 7.5), (153, 7.8)]

# ---------------- drawing ----------------
W, H = 1223, 924
fig = plt.figure(figsize=(W / 100, H / 100), dpi=100)

GRID = '#a6a6a6'
TXT = '#404040'


def box(l, t, r, b):
    return [l / W, 1 - b / H, (r - l) / W, (b - t) / H]


def style(ax, ax2, size, front=True):
    for a in (ax, ax2):
        a.spines['top'].set_visible(False)
        for s in a.spines.values():
            s.set_color(GRID)
        a.tick_params(direction='out', length=4, color=GRID, labelcolor=TXT, labelsize=size)
    ax.spines['right'].set_visible(False)
    ax2.spines['left'].set_visible(False)
    ax2.spines['bottom'].set_visible(False)
    if front:
        ax.set_zorder(ax2.get_zorder() + 1)
        ax.patch.set_visible(False)


def xy(pairs):
    a = np.array(pairs, dtype=float)
    return a[:, 0], a[:, 1]


def sap_panel(rect, vpd, sfc, sfi, start, year, names, ylab, y2lab, leg_xy, leg_sp, title_x):
    ax = fig.add_axes(box(*rect))
    ax2 = ax.twinx()
    style(ax, ax2, 8.5)
    ax2.bar(np.arange(len(vpd)), vpd, width=0.75, color='#eeeeee', linewidth=0)
    d = np.arange(start, start + len(sfc))
    ls_c = ':' if year == '2012' else '--'
    ax.plot(d, sfi, color='#b4b4b4', lw=1.6, marker='^', ms=3.2, mew=0)
    ax.plot(d, sfc, color='black', ls=ls_c, lw=1.1, marker='x', ms=3.3, mew=1.0)
    ax.set_xlim(0, 152)
    ax.set_ylim(0, 2)
    ax2.set_ylim(0, 2)
    ax.set_yticks(np.linspace(0, 2, 11))
    ax.set_yticklabels(sf_left_labels)
    ax2.set_yticks(np.linspace(0, 2, 11))
    ax2.set_yticklabels(sf_right_labels)
    ax.set_xticks(month_ticks)
    ax.set_xticklabels(month_labels)
    ax.set_ylabel(ylab, family=SERIF, fontsize=11.5, color='#262626', labelpad=3)
    ax2.set_ylabel(y2lab, family=SERIF, fontsize=11.5, color='#262626', labelpad=3)
    ax.text(title_x, 0.955, year, transform=ax.transAxes,
            ha='center', va='center', fontsize=14, fontweight='bold', color='black')
    handles = [Patch(facecolor='#eeeeee', edgecolor='none'),
               Line2D([], [], color='black', ls=ls_c, lw=1.1, marker='x', ms=3.3),
               Line2D([], [], color='#b4b4b4', lw=1.6, marker='^', ms=3.2, mew=0)]
    ax.legend(handles, names, loc='upper left', bbox_to_anchor=leg_xy,
              frameon=False, fontsize=8, labelspacing=leg_sp, handlelength=3.2,
              handleheight=0.9, labelcolor=TXT)
    return ax, ax2


sap_panel((67, 18, 552, 286), vpd12, sfc12, sfi12, sf12_start, '2012',
          ['VPD', 'SFc', 'SFi'],
          'Sap flow [l.day\u207b\u00b9.cm\u207b\u00b9]',
          'Vapor pressure deficit [kPa]', (0.045, 0.985), 2.0, 0.5)
ax_tr, ax_tr2 = sap_panel((677, 19, 1177, 282), vpd13, sfc13, sfi13, 0, '2013',
                          ['VPD', '\u00d8 SFc', '\u00d8 SFi'],
                          'SF [l.de\u0148\u207b\u00b9.cm\u207b\u00b9\n]',
                          'VPD [kPa]', (0.0, 0.99), 1.45, 0.49)
ax_tr.yaxis.label.set_multialignment('right')


def swp_panel(rect, rain_d, rain_v, swpc, swpi, irr, xlim, ticks, labels):
    ax = fig.add_axes(box(*rect))
    ax2 = ax.twinx()
    style(ax, ax2, 9.5)
    ax2.bar(rain_d, rain_v, width=0.45, color='#0070c0', linewidth=0)
    cx, cy = xy(swpc)
    ix, iy = xy(swpi)
    ax.plot(cx, cy, color='black', lw=1.2)
    ax.plot(ix, iy, color='black', ls=':', lw=2.3)
    ax.plot(irr, [12] * len(irr), ls='none', marker='s', ms=5.5, mfc='#0070c0',
            mec='white', mew=0.7, clip_on=False)
    ax.set_xlim(*xlim)
    ax.set_ylim(0, 12)
    ax2.set_ylim(0, 40)
    ax.set_yticks(range(0, 13, 2))
    ax2.set_yticks(range(0, 41, 5))
    ax.set_xticks(ticks)
    ax.set_xticklabels(labels)
    ax.set_ylabel('Vodný potenciál pôdy [bar]', fontsize=9.5, color=TXT, labelpad=4)
    ax2.set_ylabel('Zrážky [mm]', fontsize=9.5, color=TXT, labelpad=2)
    handles = [Patch(facecolor='#0070c0'),
               Line2D([], [], color='black', lw=1.2),
               Line2D([], [], color='black', ls=':', lw=2.3),
               Line2D([], [], ls='none', marker='s', ms=5.5, mfc='#0070c0', mec='white')]
    ax.legend(handles, ['Zrážky', 'SWPc', 'SWPi', 'Dni so závlahou'],
              loc='center', bbox_to_anchor=(0.52, -0.17), ncol=4, frameon=False,
              fontsize=9, columnspacing=2.0, handlelength=2.7, labelcolor=TXT)


swp_panel((69, 380, 560, 585), rain12_day, rain12_mm, swpc12, swpi12, irr12,
          (0, 153), month_ticks, month_labels)
swp_panel((683, 380, 1177, 583), rain13_day, rain13_mm, swpc13, swpi13, irr13,
          (0, 175), month_ticks_b, month_labels_b)


def met_panel(rect, pet, gr, at, gr_label):
    ax = fig.add_axes(box(*rect))
    ax2 = ax.twinx()
    style(ax, ax2, 10, front=False)
    ax.bar(np.arange(len(pet)), pet, width=0.6, color='#b9cde5', linewidth=0)
    gx, gy = xy(gr)
    tx, ty = xy(at)
    ax.plot(gx, gy, color='#fdc56a', lw=1.3)
    ax2.plot(tx, ty, color='#ff0000', lw=1.6)
    ax.set_xlim(0, 153)
    ax.set_ylim(0, 10)
    ax2.set_ylim(0, 30)
    ax.set_yticks(range(0, 11))
    ax2.set_yticks(range(0, 31, 5))
    ax.set_xticks(month_ticks)
    ax.set_xticklabels(month_labels)
    ax.set_ylabel('Globálna radiácia [kWh.m-2],\nPET [mm.deň\u207b\u00b9', fontsize=10,
                  color=TXT, labelpad=4)
    ax2.set_ylabel('Teplota vzduchu [°C]', fontsize=10, color=TXT, labelpad=1)
    handles = [Patch(facecolor='#b9cde5'),
               Line2D([], [], color='#fdc56a', lw=1.3),
               Line2D([], [], color='#ff0000', lw=1.6)]
    ax2.legend(handles, ['PET [mm.deň-1]', gr_label, 'AT [°C]'], loc='center',
               bbox_to_anchor=(0.49, 0.948), ncol=3, frameon=False, fontsize=10,
               columnspacing=0.6, handlelength=2.6, handletextpad=0.3, labelcolor=TXT)


met_panel((73, 664, 558, 897), pet12, gr12, at12, 'GR [kWh.m-2]')
met_panel((684, 664, 1172, 897), pet13, gr13, at13, 'GR [kWh.m2]')

# thin borders of the lower charts
for xb in (8, 618):
    fig.add_artist(Line2D([xb / W, xb / W], [0, 1 - 648 / H], transform=fig.transFigure,
                          color='#d9d9d9', lw=1))

fig.savefig('out.png', dpi=100)
